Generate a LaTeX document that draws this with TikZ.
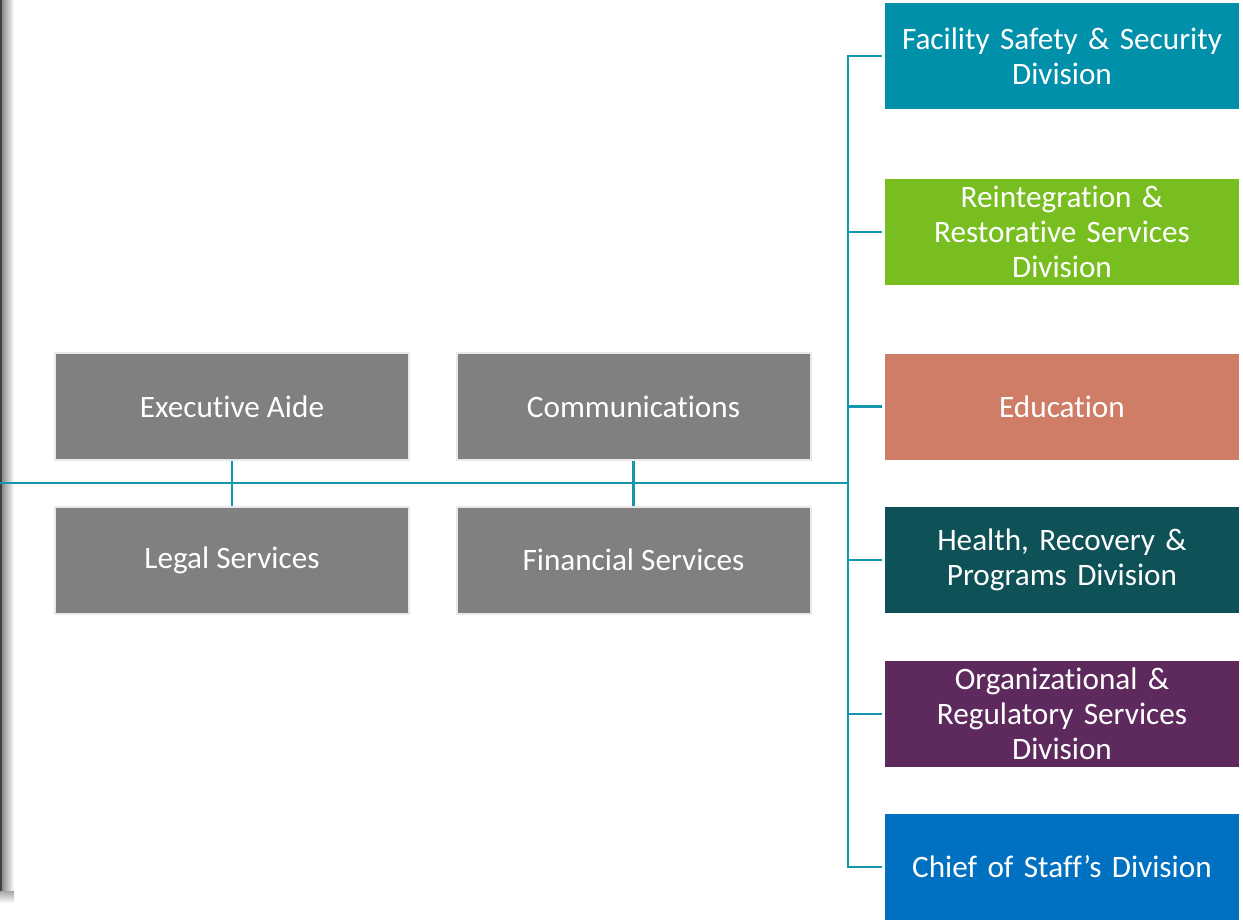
\documentclass[tikz,border=0pt]{standalone}
\usepackage{fontspec}
\setmainfont{Carlito}[Ligatures=NoCommon]
\usepackage{tikz}

\definecolor{linkteal}{HTML}{1496AE}
\definecolor{facteal}{HTML}{0090AA}
\definecolor{reingreen}{HTML}{78BE20}
\definecolor{edusalmon}{HTML}{D07D67}
\definecolor{healthteal}{HTML}{0E5257}
\definecolor{orgpurple}{HTML}{5E2A5E}
\definecolor{chiefblue}{HTML}{0070C0}
\definecolor{officegray}{HTML}{808080}

\begin{document}
\begin{tikzpicture}[x=0.5pt, y=-0.5pt,
    office/.style={fill=officegray, draw=gray!18, line width=1pt, text=white,
        minimum width=177pt, minimum height=53.5pt, font=\fontsize{15.6}{17.5}\selectfont},
    division/.style={fill=#1, text=white, align=center, text width=164pt,
        minimum width=177pt, minimum height=53pt, font=\fontsize{15.6}{17.5}\selectfont},
    link/.style={draw=linkteal, line width=1.1pt}]
        \useasboundingbox (0,0) rectangle (1243,923);

        % Dark frame on the left edge with its shadow
        \fill[black!75] (0,0) rectangle (2,891);
        \shade[left color=black!45, right color=white] (2,0) rectangle (14,891);
        \shade[top color=black!35, bottom color=white] (0,891) rectangle (14,903);

        % Offices in the middle
        \node[office] (aide) at (232,406.5) {Executive Aide};
        \node[office] (comms) at (633.5,406.5) {Communications};
        \node[office] (legal) at (232,560) {Legal Services};
        \node[office] (finance) at (633.5,560) {Financial Services};

        % Divisions on the right
        \node[division=facteal] (facility) at (1062,56) {Facility Safety \& Security\\Division};
        \node[division=reingreen] (reintegration) at (1062,232) {Reintegration \&\\Restorative Services\\Division};
        \node[division=edusalmon] (education) at (1062,406.5) {Education};
        \node[division=healthteal] (health) at (1062,560) {Health, Recovery \&\\Programs Division};
        \node[division=orgpurple] (organization) at (1062,714) {Organizational \&\\Regulatory Services\\Division};
        \node[division=chiefblue] (chief) at (1062,867) {Chief of Staff’s Division};

        % Main line and the hub
        \coordinate (start) at (0,483);
        \coordinate (hub) at (848,483);
        \draw[link] (start) -- (hub);
        \draw[link] (aide.south) -- (legal.north);
        \draw[link] (comms.south) -- (finance.north);

        % Branches to every division
        \foreach \d in {facility, reintegration, education, health, organization, chief}
            \draw[link, shorten >=1.5pt] (hub) |- (\d.west);

    \end{tikzpicture}
\end{document}
